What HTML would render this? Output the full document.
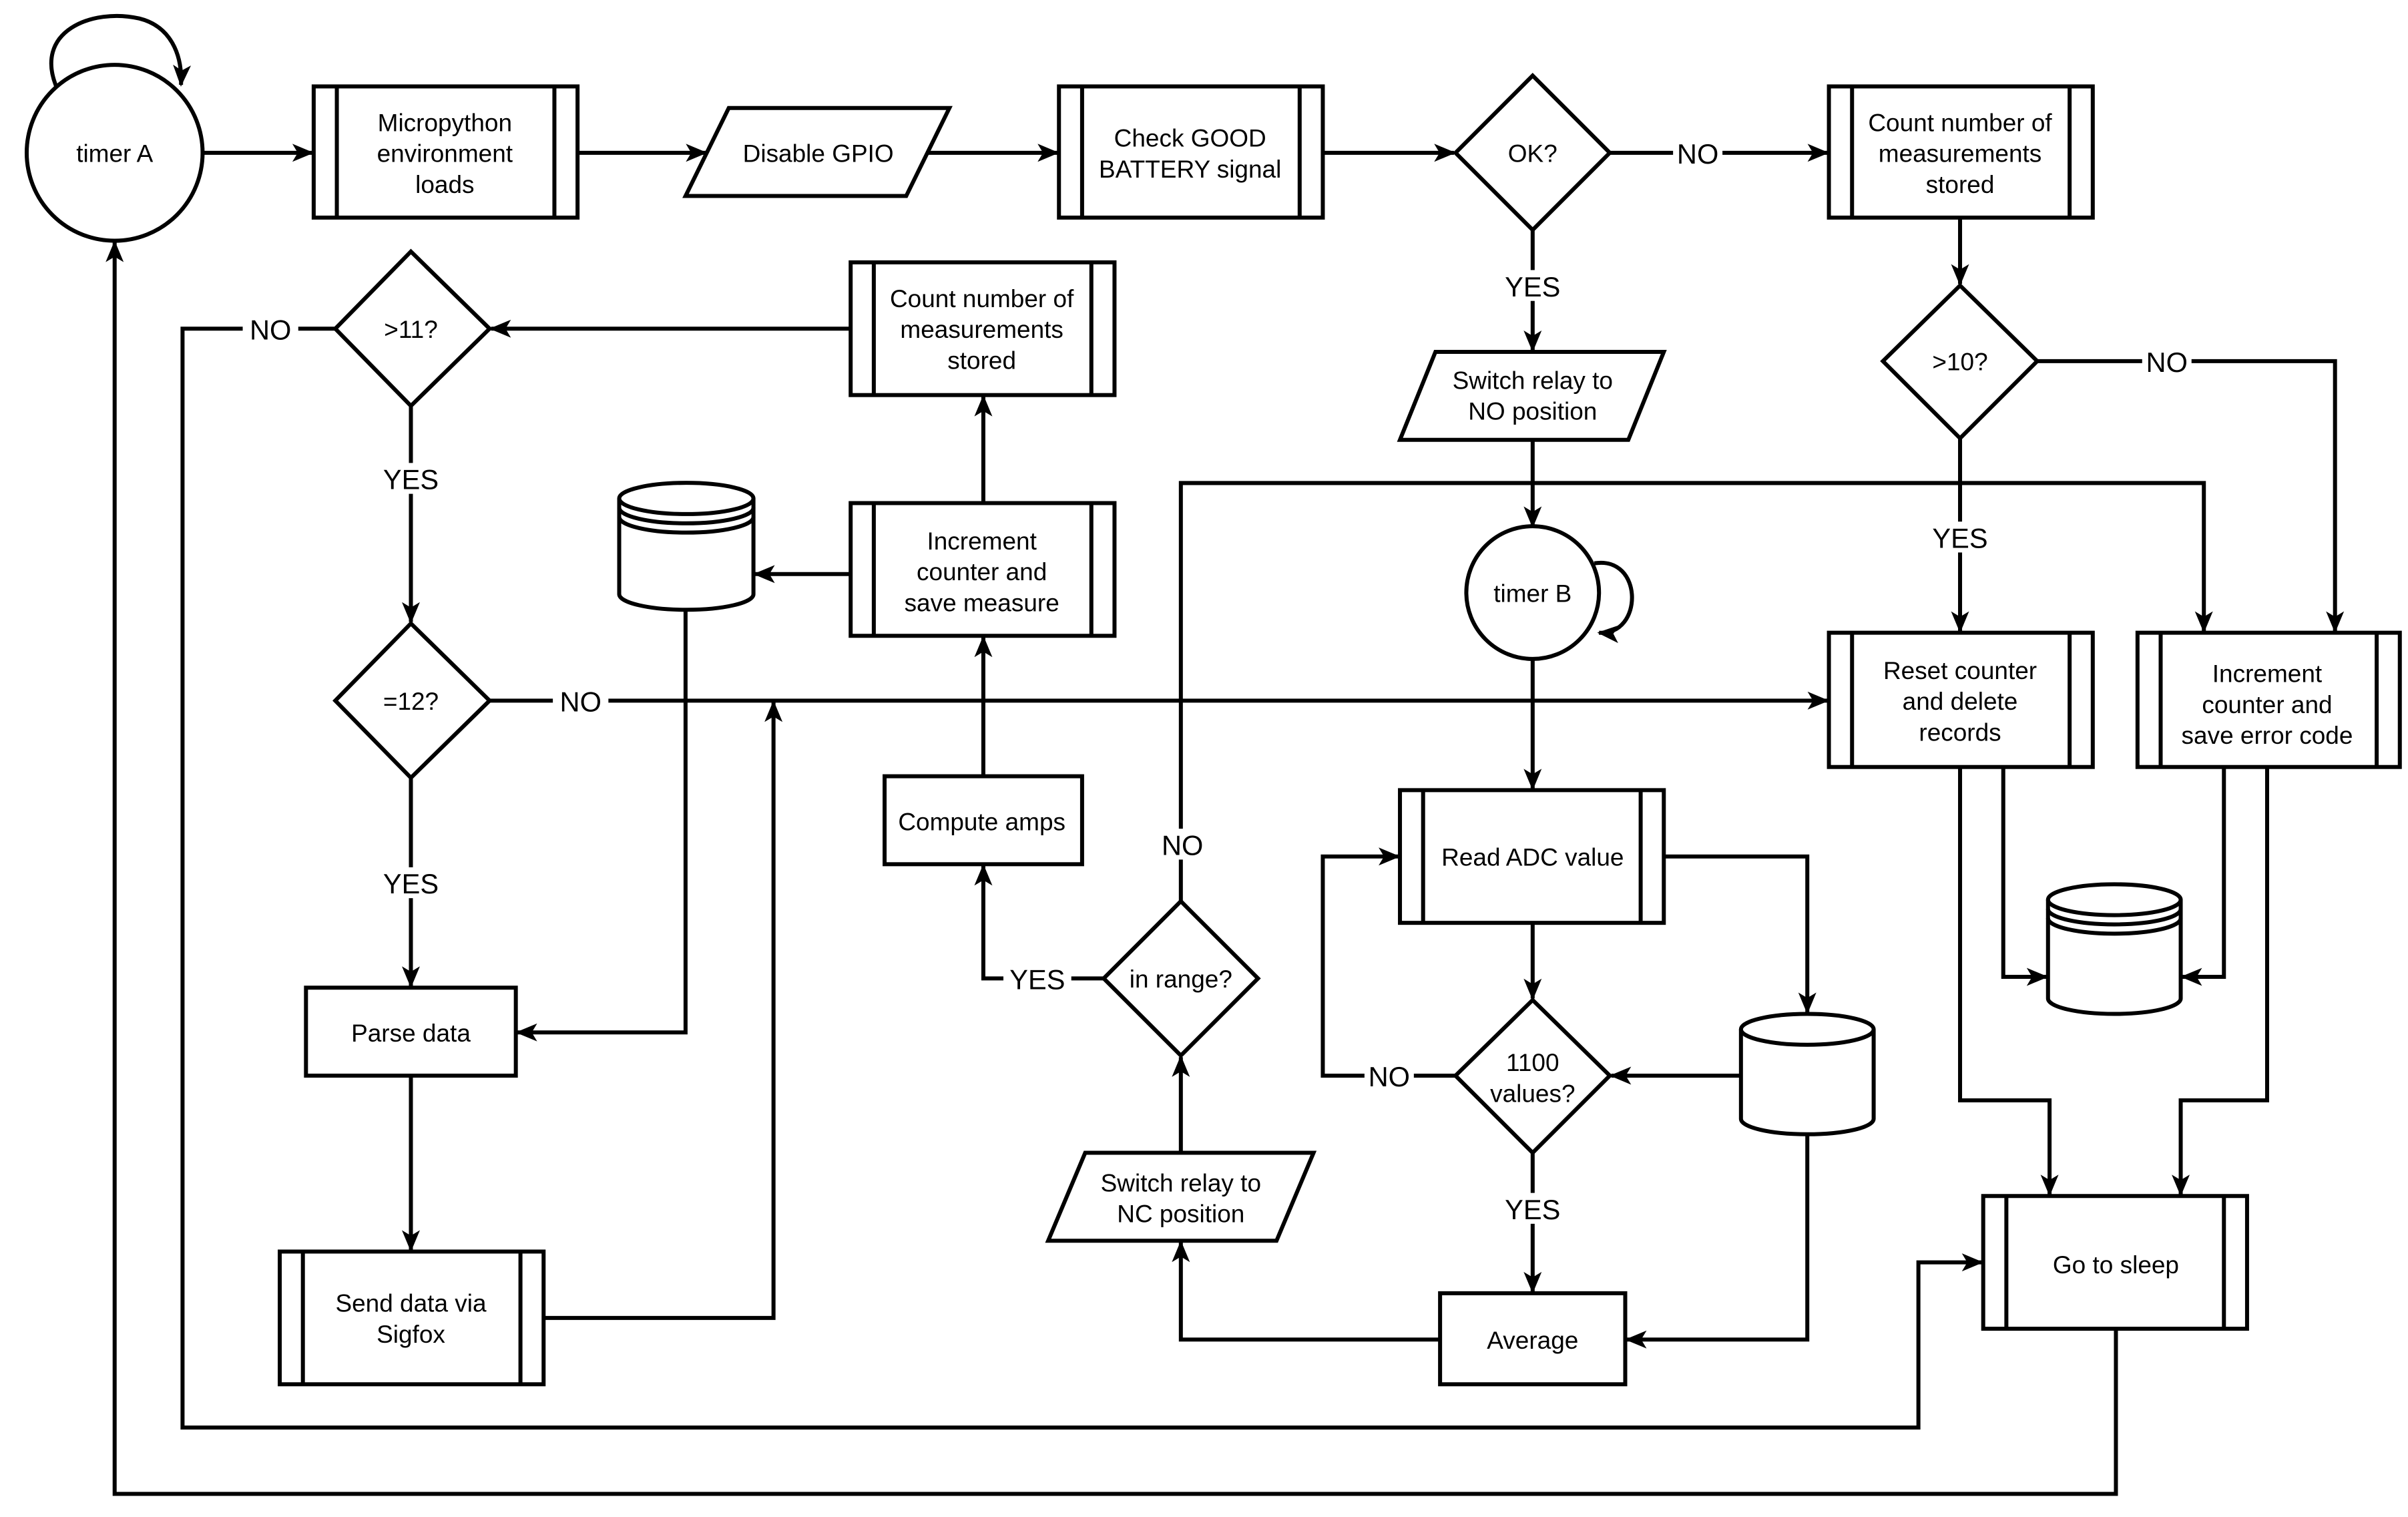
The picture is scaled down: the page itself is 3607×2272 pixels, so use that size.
<!DOCTYPE html>
<html><head><meta charset="utf-8"><style>html,body{margin:0;padding:0;background:#fff}svg{display:block}</style></head>
<body>
<svg width="3607" height="2272" viewBox="0 0 1560 983" xmlns="http://www.w3.org/2000/svg">
<defs>
<marker id="a" viewBox="0 0 10 10" refX="9" refY="5" markerWidth="6" markerHeight="6" orient="auto" markerUnits="userSpaceOnUse">
</marker>
<marker id="ar" viewBox="0 0 12 10" refX="11" refY="5" markerWidth="14" markerHeight="12" orient="auto" markerUnits="userSpaceOnUse">
<path d="M0,0 L12,5 L0,10 L3,5 Z" fill="#000"/>
</marker>
</defs>
<g fill="#fff" stroke="#000" stroke-width="2.6">
<!-- connectors -->
<g fill="none" marker-end="url(#ar)">
<path d="M131,99 H202"/>
<path d="M374,99 H457"/>
<path d="M601,99 H685"/>
<path d="M857,99 H942"/>
<path d="M1043,99 H1184"/>
<path d="M993,149 V227"/>
<path d="M993,285 V341"/>
<path d="M993,427 V511"/>
<path d="M993,598 V647"/>
<path d="M943,697 H857 V555 H906"/>
<path d="M993,747 V837"/>
<path d="M1078,555 H1171 V656"/>
<path d="M1128,697 H1044"/>
<path d="M1171,735 V868 H1054"/>
<path d="M933,868 H765 V805"/>
<path d="M765,747 V685"/>
<path d="M765,584 V313 H1428 V409"/>
<path d="M715,634 H637 V561"/>
<path d="M637,503 V413"/>
<path d="M551,372 H489"/>
<path d="M637,326 V257"/>
<path d="M551,213 H318"/>
<path d="M217,213 H118 V925 H1243 V818 H1284"/>
<path d="M266,263 V403"/>
<path d="M317,454 H1184"/>
<path d="M266,504 V639"/>
<path d="M444,395 V669 H335"/>
<path d="M266,697 V810"/>
<path d="M352,854 H501 V455"/>
<path d="M1371,861 V968 H74 V157"/>
<path d="M1270,141 V184"/>
<path d="M1320,234 H1513 V409"/>
<path d="M1270,284 V409"/>
<path d="M1270,497 V713 H1328 V774"/>
<path d="M1298,497 V633 H1326"/>
<path d="M1441,497 V633 H1414"/>
<path d="M1469,497 V713 H1413 V774"/>
<path d="M37,58 C20,20 60,5 90,12 C110,17 118,35 117,55"/>
<path d="M1033,365 C1065,360 1065,412 1036,410"/>
</g>
<!-- circles -->
<circle cx="74" cy="99" r="57"/>
<circle cx="993" cy="384" r="43"/>
<!-- subprocess boxes -->
<g>
<rect x="203" y="56" width="171" height="85"/><path d="M218,56V141M359,56V141"/>
<rect x="686" y="56" width="171" height="85"/><path d="M701,56V141M842,56V141"/>
<rect x="1185" y="56" width="171" height="85"/><path d="M1200,56V141M1341,56V141"/>
<rect x="551" y="170" width="171" height="86"/><path d="M566,170V256M707,170V256"/>
<rect x="551" y="326" width="171" height="86"/><path d="M566,326V412M707,326V412"/>
<rect x="907" y="512" width="171" height="86"/><path d="M922,512V598M1063,512V598"/>
<rect x="1185" y="410" width="171" height="87"/><path d="M1200,410V497M1341,410V497"/>
<rect x="1385" y="410" width="170" height="87"/><path d="M1400,410V497M1540,410V497"/>
<rect x="181" y="811" width="171" height="86"/><path d="M196,811V897M337,811V897"/>
<rect x="1285" y="775" width="171" height="86"/><path d="M1300,775V861M1441,775V861"/>
</g>
<rect x="573" y="503" width="128" height="57"/>
<rect x="198" y="640" width="136" height="57"/>
<rect x="933" y="838" width="120" height="59"/>
<!-- parallelograms -->
<path d="M472,70H615L587,127H444Z"/>
<path d="M930,228H1078L1055,285H907Z"/>
<path d="M703,747H851L827,804H679Z"/>
<!-- diamonds -->
<path d="M993,49L1043,99L993,149L943,99Z"/>
<path d="M993,648L1043,697L993,747L943,697Z"/>
<path d="M266,163L317,213L266,263L217,213Z"/>
<path d="M266,404L317,454L266,504L217,454Z"/>
<path d="M765,584L815,634L765,684L715,634Z"/>
<path d="M1270,185L1320,234L1270,284L1220,234Z"/>
<!-- cylinders -->
<g>
<path d="M401,323 A43,10 0 0 1 488,323 V385 A43,10 0 0 1 401,385 Z"/>
<path d="M401,323 A43,10 0 0 0 488,323 M401,329 A43,10 0 0 0 488,329 M401,335 A43,10 0 0 0 488,335" fill="none"/>
<path d="M1327,583 A43,10 0 0 1 1413,583 V647 A43,10 0 0 1 1327,647 Z"/>
<path d="M1327,583 A43,10 0 0 0 1413,583 M1327,589 A43,10 0 0 0 1413,589 M1327,595 A43,10 0 0 0 1413,595" fill="none"/>
<path d="M1128,667 A43,10 0 0 1 1214,667 V725 A43,10 0 0 1 1128,725 Z"/>
<path d="M1128,667 A43,10 0 0 0 1214,667" fill="none"/>
</g>
</g>
<!-- label backgrounds -->
<g fill="#fff">
<rect x="1084" y="90" width="32" height="18"/>
<rect x="971" y="175" width="44" height="20"/>
<rect x="157" y="204" width="36" height="18"/>
<rect x="244" y="300" width="44" height="20"/>
<rect x="358" y="445" width="36" height="18"/>
<rect x="244" y="562" width="44" height="20"/>
<rect x="749" y="537" width="32" height="20"/>
<rect x="650" y="625" width="44" height="18"/>
<rect x="884" y="688" width="32" height="18"/>
<rect x="971" y="773" width="44" height="20"/>
<rect x="1248" y="338" width="44" height="20"/>
<rect x="1388" y="225" width="32" height="18"/>
</g>
<g font-family="Liberation Sans, sans-serif" font-size="16" text-anchor="middle" fill="#000">
<text x="74" y="105">timer A</text>
<text x="288" y="85">Micropython</text><text x="288" y="105">environment</text><text x="288" y="125">loads</text>
<text x="530" y="105">Disable GPIO</text>
<text x="771" y="95">Check GOOD</text><text x="771" y="115">BATTERY signal</text>
<text x="993" y="105">OK?</text>
<text x="1270" y="85">Count number of</text><text x="1270" y="105">measurements</text><text x="1270" y="125">stored</text>
<text x="636" y="199">Count number of</text><text x="636" y="219">measurements</text><text x="636" y="239">stored</text>
<text x="266" y="219">&gt;11?</text>
<text x="993" y="252">Switch relay to</text><text x="993" y="272">NO position</text>
<text x="1270" y="240">&gt;10?</text>
<text x="636" y="356">Increment</text><text x="636" y="376">counter and</text><text x="636" y="396">save measure</text>
<text x="993" y="390">timer B</text>
<text x="266" y="460">=12?</text>
<text x="1270" y="440">Reset counter</text><text x="1270" y="460">and delete</text><text x="1270" y="480">records</text>
<text x="1469" y="442">Increment</text><text x="1469" y="462">counter and</text><text x="1469" y="482">save error code</text>
<text x="636" y="538">Compute amps</text>
<text x="993" y="561">Read ADC value</text>
<text x="765" y="640">in range?</text>
<text x="266" y="675">Parse data</text>
<text x="993" y="694">1100</text><text x="993" y="714">values?</text>
<text x="765" y="772">Switch relay to</text><text x="765" y="792">NC position</text>
<text x="1371" y="825">Go to sleep</text>
<text x="266" y="850">Send data via</text><text x="266" y="870">Sigfox</text>
<text x="993" y="874">Average</text>
</g>
<g font-family="Liberation Sans, sans-serif" font-size="18" text-anchor="middle" fill="#000">
<text x="1100" y="106">NO</text>
<text x="993" y="192">YES</text>
<text x="175" y="220">NO</text>
<text x="266" y="317">YES</text>
<text x="376" y="461">NO</text>
<text x="266" y="579">YES</text>
<text x="766" y="554">NO</text>
<text x="672" y="641">YES</text>
<text x="900" y="704">NO</text>
<text x="993" y="790">YES</text>
<text x="1270" y="355">YES</text>
<text x="1404" y="241">NO</text>
</g>
</svg>
</body></html>
